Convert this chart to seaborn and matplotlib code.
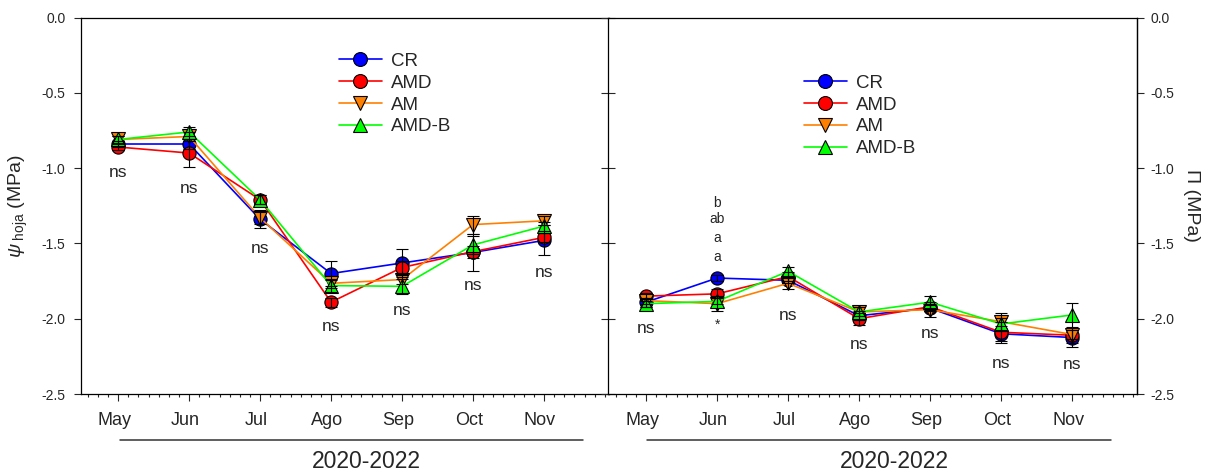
import numpy as np
import pandas as pd
import matplotlib
matplotlib.use('Agg')
import matplotlib.pyplot as plt
import matplotlib.transforms as mtrans
from matplotlib.lines import Line2D
from matplotlib.ticker import MultipleLocator, FormatStrFormatter
import seaborn as sns

#%%
# Datos
meses = ['May', 'Jun', 'Jul', 'Ago', 'Sep', 'Oct', 'Nov']
tratamientos = ['CR', 'AMD', 'AM', 'AMD-B']

# potencial hidrico foliar (MPa)
psi_cr = [-0.84, -0.84, -1.34, -1.70, -1.63, -1.56, -1.48]
psi_amd = [-0.86, -0.90, -1.21, -1.89, -1.66, -1.555, -1.46]
psi_am = [-0.81, -0.79, -1.33, -1.765, -1.74, -1.375, -1.35]
psi_amdb = [-0.81, -0.76, -1.21, -1.78, -1.785, -1.51, -1.385]

psi_cr_err = [0.02, 0.03, 0.06, 0.08, 0.09, 0.12, 0.10]
psi_amd_err = [0.02, 0.09, 0.03, 0.03, 0.04, 0.04, 0.03]
psi_am_err = [0.02, 0.03, 0.04, 0.03, 0.03, 0.06, 0.03]
psi_amdb_err = [0.02, 0.03, 0.03, 0.04, 0.05, 0.06, 0.03]

# potencial osmotico (MPa)
pi_cr = [-1.89, -1.73, -1.745, -1.98, -1.93, -2.10, -2.125]
pi_amd = [-1.85, -1.835, -1.72, -2.00, -1.92, -2.09, -2.11]
pi_am = [-1.88, -1.90, -1.765, -1.955, -1.94, -2.02, -2.105]
pi_amdb = [-1.90, -1.885, -1.685, -1.955, -1.89, -2.035, -1.975]

pi_cr_err = [0.03, 0.02, 0.02, 0.03, 0.02, 0.05, 0.06]
pi_amd_err = [0.02, 0.03, 0.03, 0.04, 0.02, 0.07, 0.05]
pi_am_err = [0.02, 0.05, 0.04, 0.03, 0.05, 0.06, 0.03]
pi_amdb_err = [0.02, 0.02, 0.03, 0.03, 0.04, 0.04, 0.08]

# anotaciones de significancia
psi_sig = ['ns'] * 7
psi_sig_y = [-1.026, -1.133, -1.531, -2.055, -1.943, -1.777, -1.69]
pi_sig = ['ns', '*', 'ns', 'ns', 'ns', 'ns', 'ns']
pi_sig_y = [-2.064, -2.04, -1.976, -2.17, -2.097, -2.296, -2.307]
pi_letras = ['b', 'ab', 'a', 'a']
pi_letras_y = [-1.234, -1.340, -1.462, -1.589]

colores = {'CR': '#0000FF', 'AMD': '#FF0000', 'AM': '#FF8000', 'AMD-B': '#00FF00'}
marcadores = {'CR': 'o', 'AMD': 'o', 'AM': 'v', 'AMD-B': '^'}

#%%
# Estilo
sns.set_style('ticks')
plt.rcParams['font.family'] = ['Liberation Sans', 'DejaVu Sans']
plt.rcParams['axes.unicode_minus'] = False
plt.rcParams['mathtext.fontset'] = 'custom'
plt.rcParams['mathtext.rm'] = 'Liberation Sans'
plt.rcParams['mathtext.it'] = 'Liberation Sans:italic'


def tabla(series):
    filas = []
    for trat, vals in zip(tratamientos, series):
        for mes, v in zip(meses, vals):
            filas.append({'mes': mes, 'valor': v, 'trat': trat})
    return pd.DataFrame(filas)


def panel(ax, series, errores):
    df = tabla(series)
    sns.lineplot(data=df, x='mes', y='valor', hue='trat', style='trat',
                 hue_order=tratamientos, style_order=tratamientos,
                 palette=colores, markers=marcadores, dashes=False,
                 markersize=9.5, markeredgecolor='black', markeredgewidth=0.8,
                 linewidth=1.2, sort=False, errorbar=None, legend=False, ax=ax)
    for vals, err in zip(series, errores):
        ax.errorbar(meses, vals, yerr=err, fmt='none', ecolor='black',
                    elinewidth=0.8, capsize=4, capthick=0.8, zorder=4)
    ax.set_xlim(-0.53, 6.91)
    ax.set_ylim(-2.5, 0.0)
    ax.set_xticks(range(len(meses)))
    ax.set_xticklabels(meses, fontsize=13)
    ax.xaxis.set_minor_locator(MultipleLocator(1 / 7))
    ax.tick_params(axis='x', which='major', direction='out', length=5,
                   width=0.8, pad=8)
    ax.tick_params(axis='x', which='minor', direction='out', length=2.5,
                   width=0.8)
    ax.set_yticks(np.arange(-2.5, 0.01, 0.5))
    ax.yaxis.set_major_formatter(FormatStrFormatter('%.1f'))
    ax.set_xlabel('')
    ax.set_ylabel('')
    for s in ax.spines.values():
        s.set_linewidth(0.9)
        s.set_color('black')
    off = mtrans.ScaledTranslation(-4 / 100, 0, ax.figure.dpi_scale_trans)
    for lab in ax.get_xticklabels():
        lab.set_transform(lab.get_transform() + off)
    # linea y periodo bajo el eje
    ax.plot([0.02, 6.55], [-0.122, -0.122], transform=ax.get_xaxis_transform(),
            clip_on=False, color='#333333', lw=1.1)
    ax.text(3.5, -0.18, '2020-2022', transform=ax.get_xaxis_transform(),
            ha='center', va='center', fontsize=16.5)


def leyenda(ax, x, y):
    handles = [Line2D([], [], color=colores[t], marker=marcadores[t],
                      markersize=10, markeredgecolor='black',
                      markeredgewidth=0.8, lw=1.2) for t in tratamientos]
    ax.legend(handles, tratamientos, loc='upper left', bbox_to_anchor=(x, y),
              frameon=False, fontsize=13.5, handlelength=2.3,
              handletextpad=0.5, labelspacing=0.25, borderpad=0,
              borderaxespad=0)


#%%
fig = plt.figure(figsize=(12.13, 4.73), dpi=100)
ax1 = fig.add_axes([0.0664, 0.167, 0.4353, 0.796])
ax2 = fig.add_axes([0.5016, 0.167, 0.4355, 0.796])

panel(ax1, [psi_cr, psi_amd, psi_am, psi_amdb],
      [psi_cr_err, psi_amd_err, psi_am_err, psi_amdb_err])
panel(ax2, [pi_cr, pi_amd, pi_am, pi_amdb],
      [pi_cr_err, pi_amd_err, pi_am_err, pi_amdb_err])

# eje y izquierdo
ax1.tick_params(axis='y', direction='out', length=5, width=0.8, pad=6,
                labelsize=10)
ax1.set_ylabel(r'$\mathit{\psi}_{\ \mathrm{hoja}}$ (MPa)', fontsize=14,
               labelpad=8)

# divisor y eje derecho
ax2.tick_params(axis='y', direction='inout', length=10, width=0.8,
                labelleft=False)
sec = ax2.secondary_yaxis('right')
sec.set_yticks(np.arange(-2.5, 0.01, 0.5))
sec.yaxis.set_major_formatter(FormatStrFormatter('%.1f'))
sec.tick_params(axis='y', direction='out', length=5, width=0.8, pad=5,
                labelsize=10)
sec.spines['right'].set_linewidth(0.9)
sec.set_ylabel('Π (MPa)', fontsize=14, rotation=270, labelpad=18)

for i, (t, y) in enumerate(zip(psi_sig, psi_sig_y)):
    ax1.text(i, y, t, ha='center', va='center', fontsize=12.5)
for i, (t, y) in enumerate(zip(pi_sig, pi_sig_y)):
    ax2.text(i, y, t, ha='center', va='center',
             fontsize=12.5 if t == 'ns' else 10)
for t, y in zip(pi_letras, pi_letras_y):
    ax2.text(1, y, t, ha='center', va='center', fontsize=10)

leyenda(ax1, 0.4886, 0.906)
leyenda(ax2, 0.370, 0.848)

fig.savefig('out.png', dpi=100)
